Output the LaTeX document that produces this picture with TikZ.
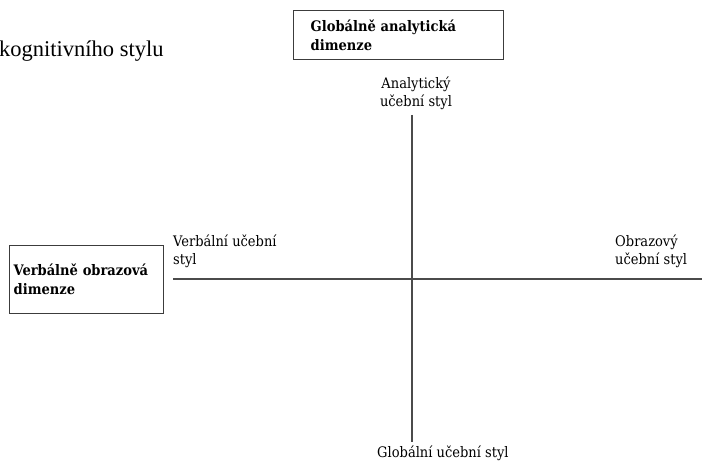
\documentclass[tikz,border=0pt]{standalone}
\usepackage{fontspec}
\setmainfont{Liberation Serif}
\newfontfamily\labelfont{DejaVu Serif Condensed}
\usepackage{tikz}
\usetikzlibrary{positioning}
\tikzstyle{axis} = [line width=2pt, draw={rgb,255:red,75;green,75;blue,75}]
\tikzstyle{dimbox} = [draw={rgb,255:red,60;green,60;blue,60}, line width=1.4pt, align=left, inner ysep=0pt, font=\labelfont\bfseries\fontsize{14.5}{19}\selectfont]
\tikzstyle{pole} = [inner sep=0pt, align=left, font=\labelfont\fontsize{14.5}{18.5}\selectfont]

\begin{document}
\begin{tikzpicture}[x=1pt, y=-1pt]
\useasboundingbox (0, 0) rectangle (702, 462);

%% title
\node[anchor=base west, inner sep=0pt, font=\fontsize{22.5}{26}\selectfont] (title) at (-1, 57) {kognitivního stylu};

%% boxes
\node[dimbox, anchor=north west, inner xsep=17pt, minimum width=210pt, minimum height=49pt, text width=176pt] (global) at (293, 10) {Globálně analytická\\dimenze};
\node[dimbox, anchor=north west, inner xsep=4pt, minimum width=154pt, minimum height=68pt, text width=146pt] (verbal) at (9, 245) {Verbálně obrazová\\dimenze};

%% axes
\coordinate (top) at (412, 115);
\coordinate (bottom) at (412, 442);
\coordinate (left) at (173, 279);
\coordinate (right) at (702, 279);
\draw[axis] (top) -- (bottom);
\draw[axis] (left) -- (right);

%% poles
\node[pole, align=center, anchor=base] (analytic) at (416, 107) {Analytický\\učební styl};
\node[pole, anchor=base west] (globalstyl) at (377, 457) {Globální učební styl};
\node[pole, anchor=base west] (verbalstyl) at (173, 265) {Verbální učební\\styl};
\node[pole, anchor=base west] (imagestyl) at (615, 265) {Obrazový\\učební styl};
\end{tikzpicture}
\end{document}
